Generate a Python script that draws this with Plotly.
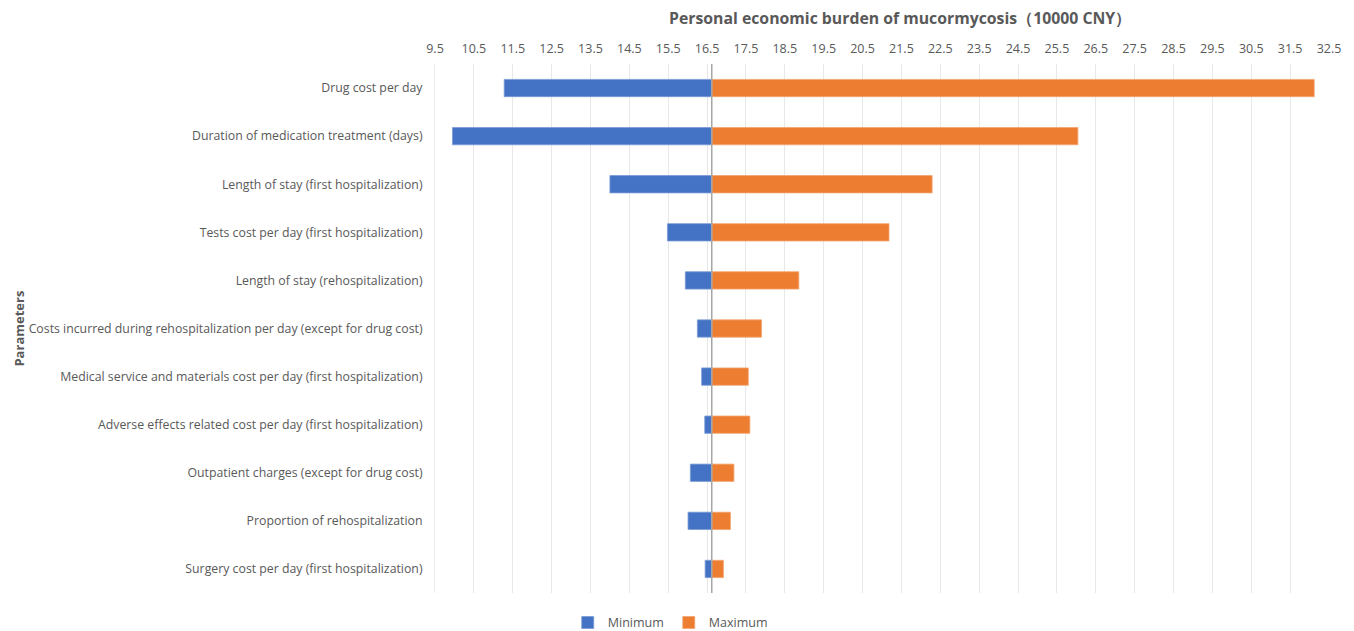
import plotly.graph_objects as go

parameters = [
    "Drug cost per day",
    "Duration of medication treatment (days)",
    "Length of stay (first hospitalization)",
    "Tests cost per day (first hospitalization)",
    "Length of stay (rehospitalization)",
    "Costs incurred during rehospitalization per day (except for drug cost)",
    "Medical service and materials cost per day (first hospitalization)",
    "Adverse effects related cost per day (first hospitalization)",
    "Outpatient charges (except for drug cost)",
    "Proportion of rehospitalization",
    "Surgery cost per day (first hospitalization)",
]
base_value = 16.62
minimum_values = [11.28, 9.95, 14.00, 15.48, 15.94, 16.25, 16.36, 16.44, 16.07, 16.01, 16.45]
maximum_values = [32.12, 26.04, 22.29, 21.18, 18.86, 17.90, 17.56, 17.60, 17.19, 17.10, 16.92]
tick_values = [9.5 + i for i in range(24)]
tick_labels = [f"{v:.1f}" for v in tick_values]

TEXT = "#595959"
FONT = "Open Sans"

fig = go.Figure()
fig.add_trace(go.Bar(
    y=parameters, x=[v - base_value for v in minimum_values], base=base_value,
    orientation="h", name="Minimum", width=0.36,
    marker=dict(color="#4472C4", line=dict(color="#7A9AD6", width=0.8)),
))
fig.add_trace(go.Bar(
    y=parameters, x=[v - base_value for v in maximum_values], base=base_value,
    orientation="h", name="Maximum", width=0.36,
    marker=dict(color="#ED7D31", line=dict(color="#F2A470", width=0.8)),
))
fig.add_vline(x=base_value, line=dict(color="#A6A6A6", width=1.5))

fig.add_annotation(
    text="<b>Parameters</b>", xref="paper", yref="paper", x=-0.4664, y=0.5,
    xanchor="center", yanchor="middle", textangle=-90, showarrow=False,
    font=dict(size=13, color=TEXT, family=FONT),
)
fig.add_annotation(
    text="<b>Personal economic burden of mucormycosis（10000 CNY）</b>",
    xref="paper", yref="paper", x=0.52, y=1, xanchor="center", yanchor="middle",
    yshift=46, showarrow=False, font=dict(size=15.8, color=TEXT, family=FONT),
)

fig.update_layout(
    width=1346, height=623,
    margin=dict(l=427, r=25, t=56, b=38),
    paper_bgcolor="white", plot_bgcolor="white",
    barmode="overlay",
    font=dict(family=FONT, color=TEXT, size=12),
    legend=dict(orientation="h", xref="container", yref="container",
                x=0.492, xanchor="center", y=0.013, yanchor="middle",
                font=dict(size=12.5, color=TEXT), traceorder="normal", itemwidth=30),
    xaxis=dict(
        side="top", range=[9.5, 32.5], tickvals=tick_values, ticktext=tick_labels,
        showgrid=True, gridcolor="#E8E8E8", gridwidth=1, zeroline=False,
        showline=False, ticks="", tickfont=dict(size=12.5, color=TEXT), automargin=False,
        ticklabelstandoff=8,
    ),
    yaxis=dict(
        autorange="reversed", showgrid=False, zeroline=False, ticks="",
        tickfont=dict(size=12.3, color=TEXT), ticklabelstandoff=9, automargin=False,
        showline=True, linecolor="#EDEDED",
    ),
)
fig.write_html("out.html")
